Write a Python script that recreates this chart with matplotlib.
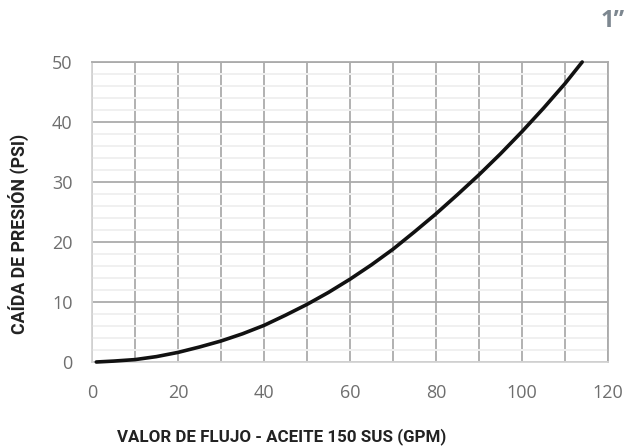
import matplotlib
matplotlib.use("Agg")
import matplotlib.pyplot as plt
from matplotlib.ticker import MultipleLocator

flow_gpm = [1, 5, 10, 15, 20, 25, 30, 35, 40, 45, 50, 55, 60, 65, 70, 75,
            80, 85, 90, 95, 100, 105, 110, 114]
pressure_psi = [0, 0.15, 0.4, 0.9, 1.6, 2.5, 3.5, 4.7, 6.1, 7.8, 9.6, 11.6,
                13.8, 16.2, 18.8, 21.7, 24.7, 27.9, 31.2, 34.7, 38.4, 42.3,
                46.4, 50]
x_ticks = [0, 20, 40, 60, 80, 100, 120]
y_ticks = [0, 10, 20, 30, 40, 50]
x_label = "VALOR DE FLUJO - ACEITE 150 SUS (GPM)"
y_label = "CAÍDA DE PRESIÓN (PSI)"
title = "1\u201d"

fig = plt.figure(figsize=(6.24, 4.48), dpi=100)
ax = fig.add_axes([92/624, 1-362/448, (608-92)/624, 300/448])

ax.set_xlim(0, 120)
ax.set_ylim(0, 50)
ax.set_xticks(x_ticks)
ax.set_yticks(y_ticks)
ax.xaxis.set_minor_locator(MultipleLocator(10))
ax.yaxis.set_minor_locator(MultipleLocator(2))

ax.grid(which="minor", axis="y", color="#f0f0f0", linewidth=1.4, zorder=0)
ax.grid(which="major", axis="both", color="#ababab", linewidth=1.3, zorder=1)
ax.grid(which="minor", axis="x", color="#ababab", linewidth=1.3, zorder=1)
for name, s in ax.spines.items():
    s.set_linewidth(1.3)
    s.set_color("#d4d4d4" if name in ("left", "bottom") else "#ababab")

ax.tick_params(which="both", length=0)
ax.tick_params(axis="y", pad=14, labelsize=13, labelcolor="#6e6e6e")
ax.tick_params(axis="x", pad=16, labelsize=13, labelcolor="#6e6e6e")
for lab in ax.get_xticklabels() + ax.get_yticklabels():
    lab.set_fontfamily("Open Sans")

ax.plot(flow_gpm, pressure_psi, color="#111111", linewidth=2.6,
        solid_capstyle="round", solid_joinstyle="round", zorder=3, clip_on=False)

fig.text(117/624, 1-437/448, x_label, fontfamily="Roboto", fontweight="bold",
         fontsize=12.2, color="#222222", ha="left", va="center")
fig.text(18/624, 1-234/448, y_label, fontfamily="Roboto", fontweight="bold",
         fontsize=12.8, color="#222222", rotation=90, ha="center", va="center")
fig.text(601/624, 1-21/448, title, fontfamily="Open Sans", fontweight="bold",
         fontsize=17, color="#7d8790", ha="left", va="center")

fig.savefig("out.png", dpi=100)
